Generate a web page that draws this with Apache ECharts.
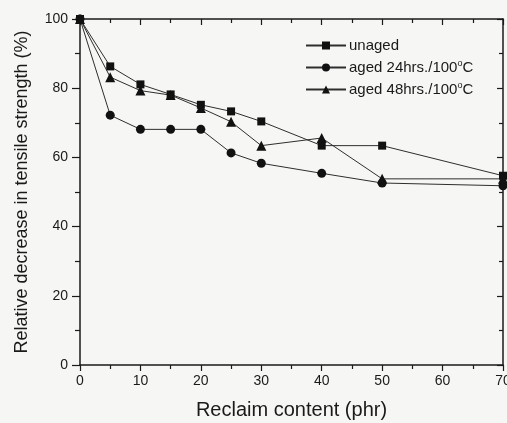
<!DOCTYPE html>
<html>
<head>
<meta charset="utf-8">
<script src="https://cdn.jsdelivr.net/npm/echarts@6/dist/echarts.min.js"></script>
<style>
html,body{margin:0;padding:0;background:#f6f6f4;}
#chart{width:507px;height:423px;}
</style>
</head>
<body>
<div id="chart"></div>
<script>
var reclaim = [0, 5, 10, 15, 20, 25, 30, 40, 50, 70];
var unaged = [100, 86.3, 81.1, 78.2, 75.2, 73.3, 70.4, 63.4, 63.4, 54.7];
var aged24 = [100, 72.2, 68.1, 68.1, 68.1, 61.3, 58.3, 55.4, 52.6, 51.8];
var aged48 = [100, 83.2, 79.3, 78.0, 74.3, 70.3, 63.4, 65.6, 53.8, 53.8];
var seriesNames = ['unaged', 'aged 24hrs./100°C', 'aged 48hrs./100°C'];
var xTitle = 'Reclaim content (phr)';
var yTitle = 'Relative decrease in tensile strength (%)';

function pairs(ys){ return reclaim.map(function(x,i){ return [x, ys[i]]; }); }

var font = 'Liberation Sans, Arial, sans-serif';
var chart = echarts.init(document.getElementById('chart'));
function mkSeries(name, ys, symbol, size){
  return {
    name: name, type:'line', data: pairs(ys), symbol: symbol, symbolSize: size,
    lineStyle:{color:'#2e2e2e', width:1}, itemStyle:{color:'#111', borderWidth:0},
    emphasis:{disabled:true}, animation:false, clip:false
  };
}
chart.setOption({
  backgroundColor:'#f6f6f4',
  animation:false,
  grid:{left:80, right:4, top:19, bottom:58, containLabel:false, outerBoundsMode:'none'},
  legend:{
    left:305, top:38, orient:'vertical', itemWidth:40, itemHeight:10, itemGap:6, padding:0,
    data: seriesNames,
    formatter:function(n){ return n.replace('100°C','100{sup|o}C'); },
    textStyle:{fontFamily:font, fontSize:15, color:'#1a1a1a', padding:[0,0,0,-2],
      rich:{sup:{fontSize:9, verticalAlign:'top', padding:[0,0,8,0], fontFamily:font, color:'#1a1a1a'}}}
  },
  xAxis:[{
    type:'value', min:0, max:70, interval:10,
    name:xTitle, nameLocation:'middle', nameGap:35,
    nameTextStyle:{fontFamily:font, fontSize:20, color:'#1a1a1a'},
    axisLine:{onZero:false, lineStyle:{color:'#1a1a1a', width:1.5}},
    axisTick:{inside:false, length:6, lineStyle:{color:'#1a1a1a', width:1.2}},
    minorTick:{show:true, splitNumber:2, length:4, lineStyle:{color:'#1a1a1a', width:1.2}},
    axisLabel:{fontFamily:font, fontSize:14, color:'#1a1a1a', margin:9, hideOverlap:false},
    splitLine:{show:false}
  },{
    type:'value', min:0, max:70, interval:10, position:'top',
    axisLine:{onZero:false, lineStyle:{color:'#1a1a1a', width:1.5}},
    axisTick:{inside:true, length:6, lineStyle:{color:'#1a1a1a', width:1.2}},
    minorTick:{show:true, splitNumber:2, length:4, lineStyle:{color:'#1a1a1a', width:1.2}},
    axisLabel:{show:false}, splitLine:{show:false}
  }],
  yAxis:[{
    type:'value', min:0, max:100, interval:20,
    name:yTitle, nameLocation:'middle', nameGap:49, nameRotate:90,
    nameTextStyle:{fontFamily:font, fontSize:18, color:'#1a1a1a'},
    axisLine:{onZero:false, lineStyle:{color:'#1a1a1a', width:1.5}},
    axisTick:{inside:false, length:8, lineStyle:{color:'#1a1a1a', width:1.2}},
    minorTick:{show:true, splitNumber:2, length:5, lineStyle:{color:'#1a1a1a', width:1.2}},
    axisLabel:{fontFamily:font, fontSize:14, color:'#1a1a1a', margin:12},
    splitLine:{show:false}
  },{
    type:'value', min:0, max:100, interval:20, position:'right',
    axisLine:{onZero:false, lineStyle:{color:'#1a1a1a', width:1.5}},
    axisTick:{inside:true, length:6, lineStyle:{color:'#1a1a1a', width:1.2}},
    minorTick:{show:true, splitNumber:2, length:4, lineStyle:{color:'#1a1a1a', width:1.2}},
    axisLabel:{show:false}, splitLine:{show:false}
  }],
  series:[
    mkSeries(seriesNames[0], unaged, 'rect', 8),
    mkSeries(seriesNames[1], aged24, 'circle', 9),
    mkSeries(seriesNames[2], aged48, 'triangle', 10)
  ]
});
</script>
</body>
</html>
